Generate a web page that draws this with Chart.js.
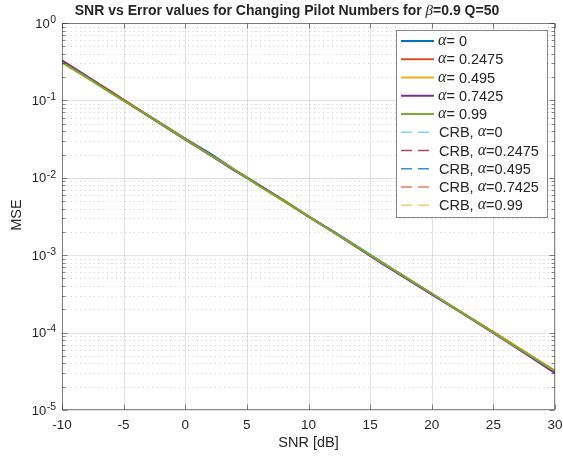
<!DOCTYPE html>
<html>
<head>
<meta charset="utf-8">
<script src="https://cdn.jsdelivr.net/npm/chart.js@4"></script>
<style>
  body { margin: 0; background: #fff; }
  #wrap { width: 563px; height: 457px; }
</style>
</head>
<body>
<div id="wrap"><canvas id="chart" width="563" height="457"></canvas></div>
<script>
// SNR grid (dB)
const snr = [-10, -8, -6, -4, -2, 0, 2, 4, 6, 8, 10, 12, 14, 16, 18, 20, 22, 24, 26, 28, 30];

// simulated MSE for each alpha
const mseA0     = [0.318, 0.203, 0.127, 0.0801, 0.0508, 0.0322, 0.0207, 0.0128, 0.00802, 0.00508, 0.00318, 0.00204, 0.00128, 8.0e-4, 5.02e-4, 3.18e-4, 2.01e-4, 1.27e-4, 8.0e-5, 4.98e-5, 3.12e-5];
const mseA2475  = [0.325, 0.205, 0.130, 0.0810, 0.0505, 0.0318, 0.0199, 0.0127, 0.00798, 0.00512, 0.00318, 0.00201, 0.00124, 7.9e-4, 5.0e-4, 3.14e-4, 1.99e-4, 1.28e-4, 8.1e-5, 5.08e-5, 3.2e-5];
const mseA495   = [0.305, 0.197, 0.124, 0.0788, 0.0497, 0.0313, 0.0198, 0.0128, 0.0079, 0.00497, 0.00314, 0.00198, 0.00125, 7.9e-4, 5.1e-4, 3.15e-4, 2.02e-4, 1.25e-4, 8.05e-5, 5.1e-5, 3.2e-5];
const mseA7425  = [0.330, 0.206, 0.127, 0.0795, 0.0496, 0.0312, 0.0198, 0.0124, 0.0080, 0.00507, 0.00315, 0.0020, 0.00125, 7.7e-4, 4.9e-4, 3.12e-4, 1.98e-4, 1.25e-4, 7.8e-5, 4.85e-5, 3.0e-5];
const mseA99    = [0.310, 0.198, 0.124, 0.0798, 0.0502, 0.0315, 0.0197, 0.0127, 0.0078, 0.00502, 0.00317, 0.00199, 0.00127, 7.95e-4, 5.05e-4, 3.2e-4, 2.0e-4, 1.27e-4, 7.9e-5, 5.05e-5, 3.18e-5];

// CRB for each alpha
const crbA0     = [0.316, 0.200, 0.126, 0.0794, 0.0501, 0.0316, 0.0200, 0.0126, 0.00794, 0.00501, 0.00316, 0.00200, 0.00126, 7.94e-4, 5.01e-4, 3.16e-4, 2.00e-4, 1.26e-4, 7.94e-5, 5.01e-5, 3.16e-5];
const crbA2475  = [0.316, 0.200, 0.126, 0.0795, 0.0501, 0.0316, 0.0200, 0.0126, 0.00795, 0.00501, 0.00316, 0.00200, 0.00126, 7.95e-4, 5.01e-4, 3.16e-4, 2.00e-4, 1.26e-4, 7.95e-5, 5.01e-5, 3.16e-5];
const crbA495   = [0.317, 0.200, 0.126, 0.0795, 0.0502, 0.0316, 0.0200, 0.0126, 0.00795, 0.00502, 0.00316, 0.00200, 0.00126, 7.95e-4, 5.02e-4, 3.16e-4, 2.00e-4, 1.26e-4, 7.95e-5, 5.02e-5, 3.16e-5];
const crbA7425  = [0.317, 0.201, 0.126, 0.0796, 0.0502, 0.0317, 0.0200, 0.0126, 0.00796, 0.00502, 0.00317, 0.00200, 0.00126, 7.96e-4, 5.02e-4, 3.17e-4, 2.00e-4, 1.26e-4, 7.96e-5, 5.02e-5, 3.17e-5];
const crbA99    = [0.318, 0.201, 0.127, 0.0797, 0.0503, 0.0317, 0.0201, 0.0127, 0.00797, 0.00503, 0.00317, 0.00201, 0.00127, 7.97e-4, 5.03e-4, 3.17e-4, 2.01e-4, 1.27e-4, 7.97e-5, 5.03e-5, 3.17e-5];

const alphaLabels = ['0', '0.2475', '0.495', '0.7425', '0.99'];
const mseSeries = [mseA0, mseA2475, mseA495, mseA7425, mseA99];
const crbSeries = [crbA0, crbA2475, crbA495, crbA7425, crbA99];

const xTicks = [-10, -5, 0, 5, 10, 15, 20, 25, 30];
const yExponents = [0, -1, -2, -3, -4, -5];

const mseColors = ['#0072BD', '#D95319', '#EDB120', '#7E2F8E', '#77AC30'];
const crbColors = ['#86CFEE', '#B0475E', '#3A8FD0', '#E8825A', '#F2CF7A'];

const TXT = '#262626';
const SANS = '"Liberation Sans", Arial, Helvetica, sans-serif';
const SERIF = '"Liberation Serif", "Times New Roman", serif';

function toPoints(ys) {
    return snr.map((x, i) => ({ x: x, y: ys[i] }));
}

const datasets = [];
mseSeries.forEach((ys, i) => {
    datasets.push({
        label: 'α= ' + alphaLabels[i],
        data: toPoints(ys),
        borderColor: mseColors[i],
        borderWidth: 2,
        pointRadius: 0,
        tension: 0,
        order: -i
    });
});
crbSeries.forEach((ys, i) => {
    datasets.push({
        label: 'CRB, α=' + alphaLabels[i],
        data: toPoints(ys),
        borderColor: crbColors[i],
        borderWidth: 1.2,
        borderDash: [8, 5],
        pointRadius: 0,
        tension: 0,
        order: 10 - i
    });
});

// draws the MATLAB-looking grid, box, ticks, labels, title and legend
const matlabAxes = {
    id: 'matlabAxes',
    beforeDatasetsDraw(chart) {
        const ctx = chart.ctx;
        const a = chart.chartArea;
        const xs = chart.scales.x, ys = chart.scales.y;
        ctx.save();
        // minor y grid (dotted)
        ctx.strokeStyle = 'rgba(120,120,120,0.35)';
        ctx.lineWidth = 1;
        ctx.setLineDash([1, 3.5]);
        for (let e = -5; e < 0; e++) {
            for (let m = 2; m <= 9; m++) {
                const py = Math.round(ys.getPixelForValue(m * Math.pow(10, e))) + 0.5;
                ctx.beginPath();
                ctx.moveTo(a.left, py);
                ctx.lineTo(a.right, py);
                ctx.stroke();
            }
        }
        ctx.setLineDash([]);
        // major grid
        ctx.strokeStyle = 'rgba(38,38,38,0.13)';
        xTicks.forEach(v => {
            const px = Math.round(xs.getPixelForValue(v)) + 0.5;
            ctx.beginPath();
            ctx.moveTo(px, a.top);
            ctx.lineTo(px, a.bottom);
            ctx.stroke();
        });
        yExponents.forEach(e => {
            const py = Math.round(ys.getPixelForValue(Math.pow(10, e))) + 0.5;
            ctx.beginPath();
            ctx.moveTo(a.left, py);
            ctx.lineTo(a.right, py);
            ctx.stroke();
        });
        ctx.restore();
    },
    afterDatasetsDraw(chart) {
        const ctx = chart.ctx;
        const a = chart.chartArea;
        const xs = chart.scales.x, ys = chart.scales.y;
        ctx.save();

        // box
        ctx.strokeStyle = 'rgba(38,38,38,0.55)';
        ctx.lineWidth = 1;
        const L = Math.round(a.left) + 0.5, R = Math.round(a.right) - 0.5;
        const T = Math.round(a.top) + 0.5, B = Math.round(a.bottom) - 0.5;
        ctx.strokeRect(L, T, R - L, B - T);

        // tick marks (inside, on all four sides)
        ctx.beginPath();
        xTicks.forEach(v => {
            const px = Math.round(xs.getPixelForValue(v)) + 0.5;
            ctx.moveTo(px, B); ctx.lineTo(px, B - 5);
            ctx.moveTo(px, T); ctx.lineTo(px, T + 5);
        });
        yExponents.forEach(e => {
            const py = Math.round(ys.getPixelForValue(Math.pow(10, e))) + 0.5;
            ctx.moveTo(L, py); ctx.lineTo(L + 5, py);
            ctx.moveTo(R, py); ctx.lineTo(R - 5, py);
        });
        for (let e = -5; e < 0; e++) {
            for (let m = 2; m <= 9; m++) {
                const py = Math.round(ys.getPixelForValue(m * Math.pow(10, e))) + 0.5;
                ctx.moveTo(L, py); ctx.lineTo(L + 3, py);
                ctx.moveTo(R, py); ctx.lineTo(R - 3, py);
            }
        }
        ctx.stroke();

        ctx.fillStyle = TXT;
        // x tick labels
        ctx.font = '13.5px ' + SANS;
        ctx.textAlign = 'center';
        ctx.textBaseline = 'middle';
        xTicks.forEach(v => {
            ctx.fillText(String(v), xs.getPixelForValue(v), 425);
        });

        // y tick labels 10^e
        yExponents.forEach(e => {
            const py = ys.getPixelForValue(Math.pow(10, e));
            ctx.font = '13px ' + SANS;
            const wBase = ctx.measureText('10').width;
            ctx.font = '10.5px ' + SANS;
            const expStr = String(e);
            const wExp = ctx.measureText(expStr).width;
            const x0 = 55.5 - wBase - wExp;
            ctx.textAlign = 'left';
            ctx.font = '13px ' + SANS;
            ctx.fillText('10', x0, py + 1);
            ctx.font = '10.5px ' + SANS;
            ctx.fillText(expStr, x0 + wBase + 0.5, py - 3);
        });

        // axis titles
        ctx.font = '14.5px ' + SANS;
        ctx.textAlign = 'center';
        ctx.fillText('SNR [dB]', (a.left + a.right) / 2, 443);
        ctx.save();
        ctx.translate(17, 215);
        ctx.rotate(-Math.PI / 2);
        ctx.fillText('MSE', 0, 0);
        ctx.restore();

        // title with italic beta
        const t1 = 'SNR vs Error values for Changing Pilot Numbers for ';
        const t2 = 'β';
        const t3 = '=0.9 Q=50';
        ctx.font = 'bold 14px ' + SANS;
        const w1 = ctx.measureText(t1).width, w3 = ctx.measureText(t3).width;
        ctx.font = 'italic 15px ' + SERIF;
        const w2 = ctx.measureText(t2).width;
        let tx = 287 - (w1 + w2 + w3) / 2;
        ctx.textAlign = 'left';
        ctx.font = 'bold 14px ' + SANS;
        ctx.fillText(t1, tx, 11);
        tx += w1;
        ctx.font = 'italic 15px ' + SERIF;
        ctx.fillText(t2, tx, 11);
        tx += w2;
        ctx.font = 'bold 14px ' + SANS;
        ctx.fillText(t3, tx, 11);

        // legend box
        const lx = 396.5, ly = 30.5, lw = 151, lh = 187;
        ctx.fillStyle = '#fff';
        ctx.fillRect(lx, ly, lw, lh);
        ctx.strokeStyle = 'rgba(38,38,38,0.55)';
        ctx.strokeRect(lx, ly, lw, lh);
        chart.data.datasets.forEach((ds, i) => {
            const cy = 41 + i * 18.25;
            ctx.strokeStyle = ds.borderColor;
            ctx.lineWidth = i < 5 ? 2 : 1.3;
            ctx.setLineDash(i < 5 ? [] : [11, 6]);
            ctx.beginPath();
            ctx.moveTo(401, cy);
            ctx.lineTo(434, cy);
            ctx.stroke();
            ctx.setLineDash([]);
            ctx.fillStyle = TXT;
            let px = 438;
            if (i >= 5) {
                ctx.font = '14.5px ' + SANS;
                ctx.fillText('CRB, ', px + 1, cy + 1);
                px += 1 + ctx.measureText('CRB, ').width;
            }
            ctx.font = 'italic 16px ' + SERIF;
            ctx.fillText('α', px, cy);
            px += ctx.measureText('α').width;
            ctx.font = '14.5px ' + SANS;
            ctx.fillText((i < 5 ? '= ' : '=') + alphaLabels[i % 5], px, cy + 1);
        });
        ctx.restore();
    }
};

new Chart(document.getElementById('chart'), {
    type: 'line',
    data: { datasets: datasets },
    options: {
        responsive: false,
        animation: false,
        layout: { padding: { top: 23, right: 8, left: 0, bottom: 0 } },
        plugins: {
            legend: { display: false },
            title: { display: false },
            tooltip: { enabled: false }
        },
        scales: {
            x: {
                type: 'linear',
                min: -10,
                max: 30,
                grid: { display: false },
                border: { display: false },
                ticks: { display: false },
                afterFit: scale => { scale.height = 47; }
            },
            y: {
                type: 'logarithmic',
                min: 1e-5,
                max: 1,
                grid: { display: false },
                border: { display: false },
                ticks: { display: false },
                afterFit: scale => { scale.width = 62; }
            }
        }
    },
    plugins: [matlabAxes]
});
</script>
</body>
</html>
